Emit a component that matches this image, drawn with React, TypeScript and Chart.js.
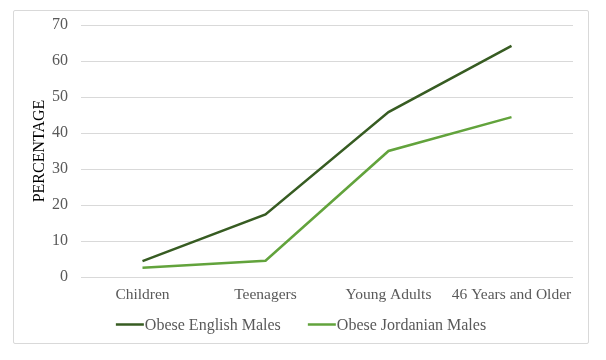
import React, { useEffect, useRef } from "react";
import { Chart, registerables } from "chart.js";

Chart.register(...registerables);

const categories = ["Children", "Teenagers", "Young Adults", "46 Years and Older"];
const englishMales = [4.4, 17.4, 45.8, 64.2];
const jordanianMales = [2.6, 4.5, 35.0, 44.4];
const seriesNames = ["Obese English Males", "Obese Jordanian Males"];
const yTicks = [0, 10, 20, 30, 40, 50, 60, 70];

const DARK = "#375C22";
const LIGHT = "#62A33C";
const SERIF = "'Liberation Serif', 'Times New Roman', serif";

const legendPlugin = {
  id: "customLegend",
  afterDraw(chart: any) {
    const ctx = chart.ctx;
    const ds = chart.data.datasets;
    ctx.save();
    ctx.font = `16px ${SERIF}`;
    ctx.textBaseline = "middle";
    const lineW = 28;
    const gap = 1;
    const itemGap = 27;
    const widths = ds.map((d: any) => lineW + gap + ctx.measureText(d.label).width);
    const total = widths.reduce((a: number, b: number) => a + b, 0) + itemGap * (ds.length - 1);
    let x = 301 - total / 2;
    const y = 324.5;
    ds.forEach((d: any, i: number) => {
      ctx.strokeStyle = d.borderColor;
      ctx.lineWidth = 2.5;
      ctx.beginPath();
      ctx.moveTo(x, y);
      ctx.lineTo(x + lineW, y);
      ctx.stroke();
      ctx.fillStyle = "#595959";
      ctx.fillText(d.label, x + lineW + gap, y + 1);
      x += widths[i] + itemGap;
    });
    ctx.restore();
  },
};

export default function App() {
  const ref = useRef<HTMLCanvasElement | null>(null);

  useEffect(() => {
    if (!ref.current) return;
    const chart = new Chart(ref.current, {
      type: "line",
      data: {
        labels: categories,
        datasets: [
          {
            label: seriesNames[0],
            data: englishMales,
            borderColor: DARK,
            backgroundColor: DARK,
            borderWidth: 2.5,
            pointRadius: 0,
            tension: 0,
          },
          {
            label: seriesNames[1],
            data: jordanianMales,
            borderColor: LIGHT,
            backgroundColor: LIGHT,
            borderWidth: 2.5,
            pointRadius: 0,
            tension: 0,
          },
        ],
      },
      options: {
        animation: false,
        responsive: false,
        maintainAspectRatio: false,
        layout: { padding: { left: 0, right: 33, top: 25, bottom: 43 } },
        plugins: {
          legend: { display: false },
          tooltip: { enabled: false },
        },
        scales: {
          x: {
            type: "category",
            offset: true,
            grid: { display: false, drawTicks: false },
            border: { display: false },
            ticks: {
              color: "#595959",
              font: { family: SERIF, size: 15.5 },
              padding: 9,
              maxRotation: 0,
              autoSkip: false,
            },
            afterFit: (s: any) => {
              s.height = 40;
            },
          },
          y: {
            min: 0,
            max: 70,
            afterBuildTicks: (s: any) => {
              s.ticks = yTicks.map((v) => ({ value: v }));
            },
            grid: { color: "#D9D9D9", lineWidth: 1, drawTicks: false },
            border: { display: false },
            ticks: {
              color: "#595959",
              font: { family: SERIF, size: 16 },
              padding: 13,
            },
            title: {
              display: true,
              text: "PERCENTAGE",
              color: "#000000",
              font: { family: SERIF, size: 16 },
              padding: { top: 30, bottom: 0 },
            },
            afterFit: (s: any) => {
              s.width = 81;
            },
          },
        },
      },
      plugins: [legendPlugin],
    });
    return () => chart.destroy();
  }, []);

  return (
    <div style={{ position: "absolute", left: 0, top: 0, width: 606, height: 360, background: "#fff" }}>
      <div
        style={{
          position: "absolute",
          left: 13,
          top: 10,
          width: 576,
          height: 334,
          border: "1px solid #D9D9D9",
          boxSizing: "border-box",
          borderRadius: 2,
        }}
      />
      <canvas ref={ref} width={606} height={360} style={{ position: "absolute", left: 0, top: 0 }} />
    </div>
  );
}
